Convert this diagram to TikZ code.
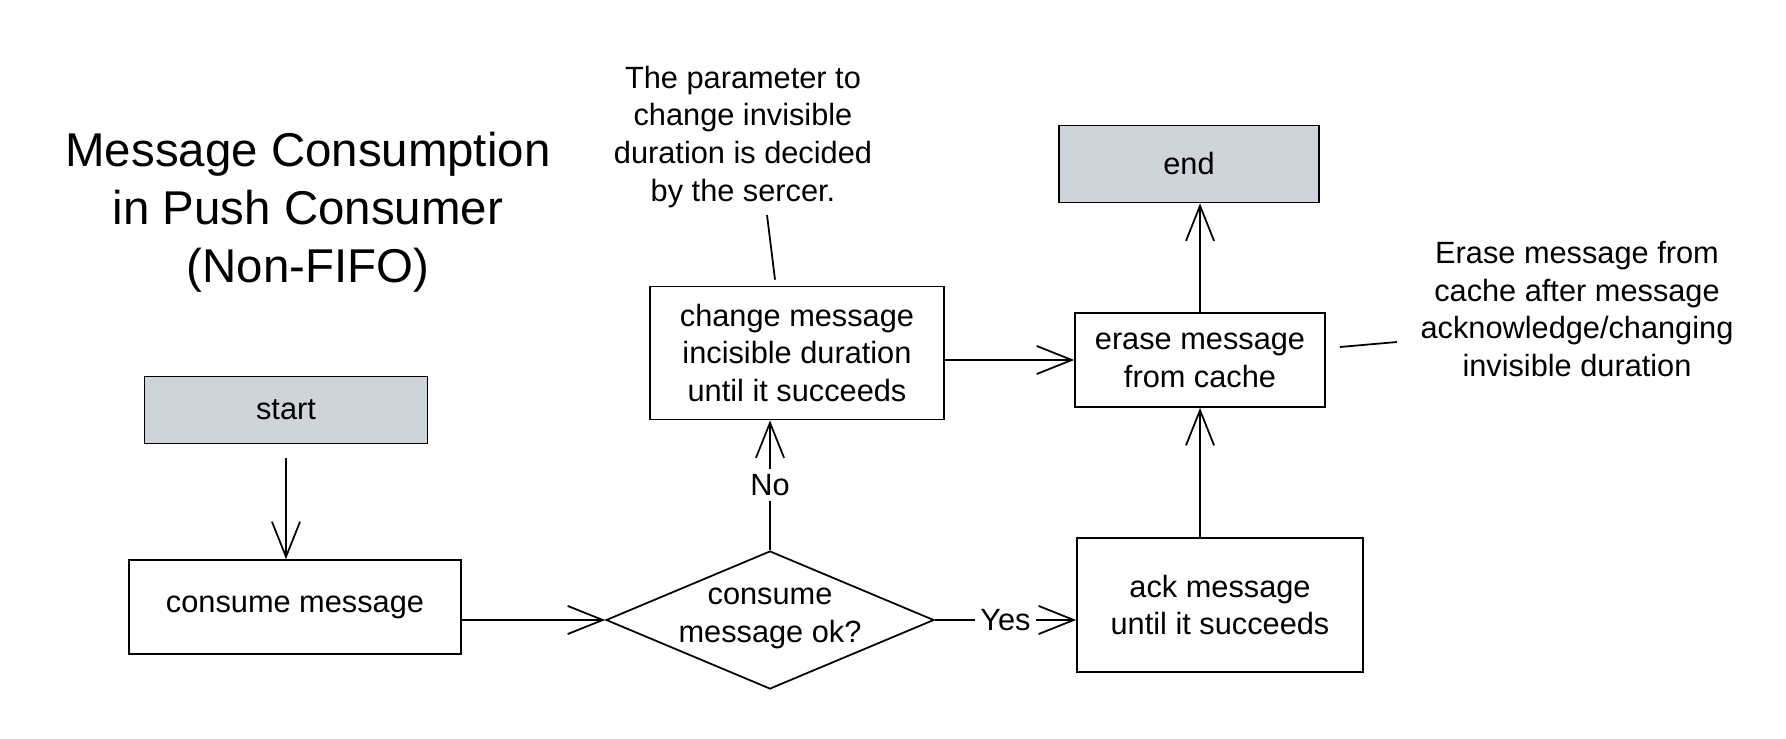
\documentclass[tikz,border=0pt]{standalone}
\usepackage{fontspec}
\setmainfont{Liberation Sans}
\usetikzlibrary{arrows.meta,shapes.geometric,calc}
\definecolor{grijs}{RGB}{206,212,218}
\newcommand{\tekst}{\fontsize{17.5}{21.6}\selectfont}

\begin{document}
\begin{tikzpicture}[x=0.02cm, y=-0.02cm, line width=1pt,
                blok/.style={draw, align=center, inner sep=0pt, font=\tekst},
                notitie/.style={align=center, font=\tekst},
                pijl/.style={-{Straight Barb[length=20pt,width=16pt]}}]
                \useasboundingbox (0,0) rectangle (1786,738);
                
                \node[align=center, font=\fontsize{27}{33}\selectfont] (titel) at (308,212) {Message Consumption\\in Push Consumer\\(Non-FIFO)};
                \node[notitie] (noot1) at (743,137) {The parameter to\\change invisible\\duration is decided\\by the sercer.};
                \node[notitie] (noot2) at (1577,309) {Erase message from\\cache after message\\acknowledge/changing\\invisible duration};
                
                \node[blok, fill=grijs, minimum width=5.66cm, minimum height=1.34cm] (start) at (286,410) {start};
                \node[blok, fill=grijs, minimum width=5.2cm, minimum height=1.54cm] (end) at (1189,164) {end};
                \node[blok, minimum width=6.64cm, minimum height=1.88cm] (consume) at (295,607) {consume message};
                \node[blok, minimum width=5.88cm, minimum height=2.66cm] (change) at (797,353) {change message\\incisible duration\\until it succeeds};
                \node[blok, minimum width=5cm, minimum height=1.88cm] (erase) at (1200,360) {erase message\\from cache};
                \node[blok, minimum width=5.72cm, minimum height=2.68cm] (ack) at (1220,605) {ack message\\until it succeeds};
                \node[draw, diamond, minimum width=6.56cm, minimum height=2.76cm, inner sep=0pt] (ok) at (770,620) {};
                \node[notitie] (oktekst) at (770,618) {consume\\message ok?};
                
                \draw[pijl, shorten <=8pt] (start.south) -- (start.south |- consume.north);
                \draw[pijl] (ok.west -| consume.east) -- (ok.west);
                \draw[pijl] (ok.east) -- node[fill=white, font=\tekst, inner sep=3pt] (ja) {Yes} (ok.east -| ack.west);
                \draw[pijl] (ok.north) -- node[fill=white, font=\tekst, inner sep=3pt] (nee) {No} (ok.north |- change.south);
                \draw[pijl] (erase.west -| change.east) -- (erase.west);
                \draw[pijl] (erase.south |- ack.north) -- (erase.south);
                \draw[pijl] (erase.north) -- (erase.north |- end.south);
                
                % lijntjes naar de notities
                \draw ($(noot1.south)+(24,0)$) -- ($(change.north)+(-22,-6)$);
                \draw ($(erase.east)+(14,-13)$) -- ($(erase.east)+(71,-18)$);
                \end{tikzpicture}
\end{document}
